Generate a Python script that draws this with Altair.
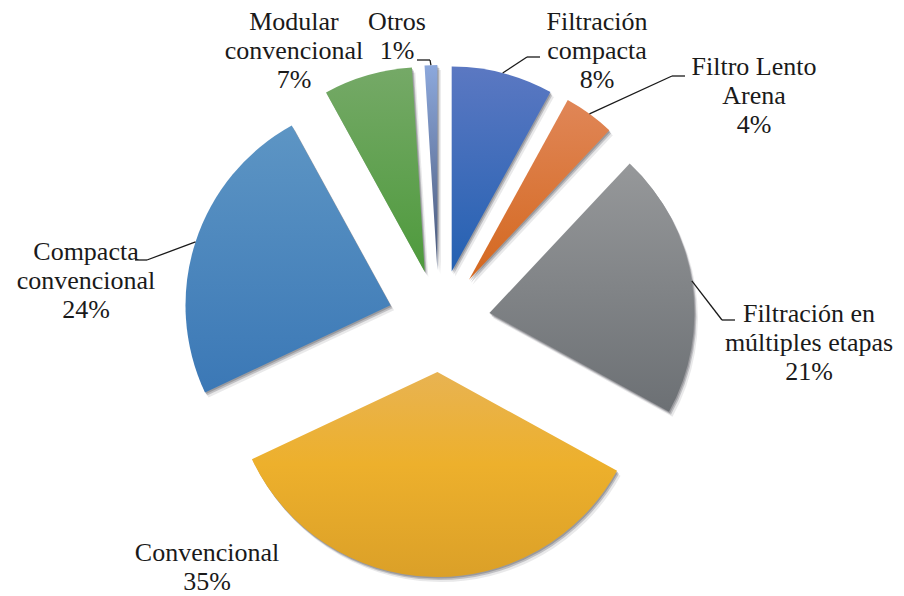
import altair as alt
import numpy as np
import pandas as pd

# ---------------- data ----------------
categories = [
    "Filtración compacta",
    "Filtro Lento Arena",
    "Filtración en múltiples etapas",
    "Convencional",
    "Compacta convencional",
    "Modular convencional",
    "Otros",
]
values = [8, 4, 21, 35, 24, 7, 1]
label_names = [
    "Filtración\ncompacta",
    "Filtro Lento\nArena",
    "Filtración en\nmúltiples etapas",
    "Convencional",
    "Compacta\nconvencional",
    "Modular\nconvencional",
    "Otros",
]

# ---------------- layout / style ----------------
W, H = 888, 588
CX, CY = 431, 313          # pie centre inside the plot area (pixels)
RADIUS = 205
EXPLODE = 51
FONT = "Liberation Serif, Times New Roman, serif"

# label anchor (centre x, first baseline y) relative to the pie centre, y up
label_pos = {
    "Filtración compacta": (158, 291),
    "Filtro Lento Arena": (315, 246),
    "Filtración en múltiples etapas": (370, -1),
    "Convencional": (-232, -240),
    "Compacta convencional": (-353, 61),
    "Modular convencional": (-145, 291),
    "Otros": (-42, 291),
}
# leader line: elbow point and end point, relative to the pie centre, y up
leader_pos = {
    "Filtración compacta": (88, 264, 101, 264),
    "Filtro Lento Arena": (233, 245, 246, 245),
    "Filtración en múltiples etapas": (283, 1, 296, 1),
    "Compacta convencional": (-292, 61, -304, 61),
    "Otros": (-9, 261, -22, 261),
}
gradients = {
    "Filtración compacta": [("#5b78c2", 0), ("#2461b2", 1)],
    "Filtro Lento Arena": [("#e08657", 0), ("#d4681f", 1)],
    "Filtración en múltiples etapas": [("#96989a", 0), ("#6c7074", 1)],
    "Convencional": [("#e8b352", 0), ("#edb02c", 0.45), ("#dba028", 1)],
    "Compacta convencional": [("#5d95c4", 0), ("#3b78b6", 1)],
    "Modular convencional": [("#75a967", 0), ("#4e9a3c", 1)],
    "Otros": [("#8ca8dc", 0), ("#4a5878", 1)],
}

# ---------------- derived table ----------------
total = sum(values)
end = np.cumsum(values)
start = end - np.array(values)
mid = (start + end) / 2 / total * 2 * np.pi

df = pd.DataFrame({
    "cat": categories,
    "value": values,
    "start": start,
    "end": end,
    "cx": EXPLODE * np.sin(mid),
    "cy": EXPLODE * np.cos(mid),
    "label": [f"{n}\n{v}%" for n, v in zip(label_names, values)],
    "lx": [label_pos[c][0] for c in categories],
    "ly": [label_pos[c][1] for c in categories],
})

lead_rows = []
for c, m in zip(categories, mid):
    if c in leader_pos:
        ex, ey, tx, ty = leader_pos[c]
        r = RADIUS + EXPLODE
        lead_rows.append({"cat": c, "ax": r * np.sin(m), "ay": r * np.cos(m),
                          "ex": ex, "ey": ey, "tx": tx, "ty": ty})
lead = pd.DataFrame(lead_rows)

xs = alt.Scale(domain=[-CX, W - CX], nice=False, zero=False)
ys = alt.Scale(domain=[-(H - CY), CY], nice=False, zero=False)
ts = alt.Scale(domain=[0, total], range=[0, 2 * np.pi])

layers = []

# soft shadow
for dx, dy, op in [(3.5, -5, 0.10), (2, -3, 0.22), (1, -1.5, 0.25)]:
    layers.append(
        alt.Chart(df)
        .transform_calculate(sx=f"datum.cx + {dx}", sy=f"datum.cy + {dy}")
        .mark_arc(radius=RADIUS, fill="#2a2a35", opacity=op)
        .encode(
            x=alt.X("sx:Q", scale=xs, axis=None),
            y=alt.Y("sy:Q", scale=ys, axis=None),
            theta=alt.Theta("start:Q", scale=ts),
            theta2=alt.Theta2("end:Q"),
        )
    )

# slices with vertical gradients
for c in categories:
    grad = alt.LinearGradient(
        gradient="linear",
        stops=[alt.GradientStop(color=col, offset=off) for col, off in gradients[c]],
        x1=0, x2=0, y1=0, y2=1,
    )
    layers.append(
        alt.Chart(df)
        .transform_filter(alt.datum.cat == c)
        .mark_arc(radius=RADIUS, fill=grad)
        .encode(
            x=alt.X("cx:Q", scale=xs, axis=None),
            y=alt.Y("cy:Q", scale=ys, axis=None),
            theta=alt.Theta("start:Q", scale=ts),
            theta2=alt.Theta2("end:Q"),
        )
    )

# leader lines
layers.append(
    alt.Chart(lead).mark_rule(color="#1a1a1a", strokeWidth=1.3).encode(
        x=alt.X("ax:Q", scale=xs, axis=None),
        y=alt.Y("ay:Q", scale=ys, axis=None),
        x2="ex:Q", y2="ey:Q",
    )
)
layers.append(
    alt.Chart(lead).mark_rule(color="#1a1a1a", strokeWidth=1.3).encode(
        x=alt.X("ex:Q", scale=xs, axis=None),
        y=alt.Y("ey:Q", scale=ys, axis=None),
        x2="tx:Q", y2="ty:Q",
    )
)

# labels
layers.append(
    alt.Chart(df).mark_text(
        font=FONT, fontSize=26, lineBreak="\n", lineHeight=29,
        align="center", baseline="alphabetic", color="#1a1a1a",
    ).encode(
        x=alt.X("lx:Q", scale=xs, axis=None),
        y=alt.Y("ly:Q", scale=ys, axis=None),
        text="label:N",
    )
)

chart = (
    alt.layer(*layers)
    .properties(width=W, height=H, padding=0,
                autosize=alt.AutoSizeParams(type="none"), background="white")
    .configure_view(stroke=None)
)

chart.save("out.html", embed_options={"renderer": "svg", "actions": False})
